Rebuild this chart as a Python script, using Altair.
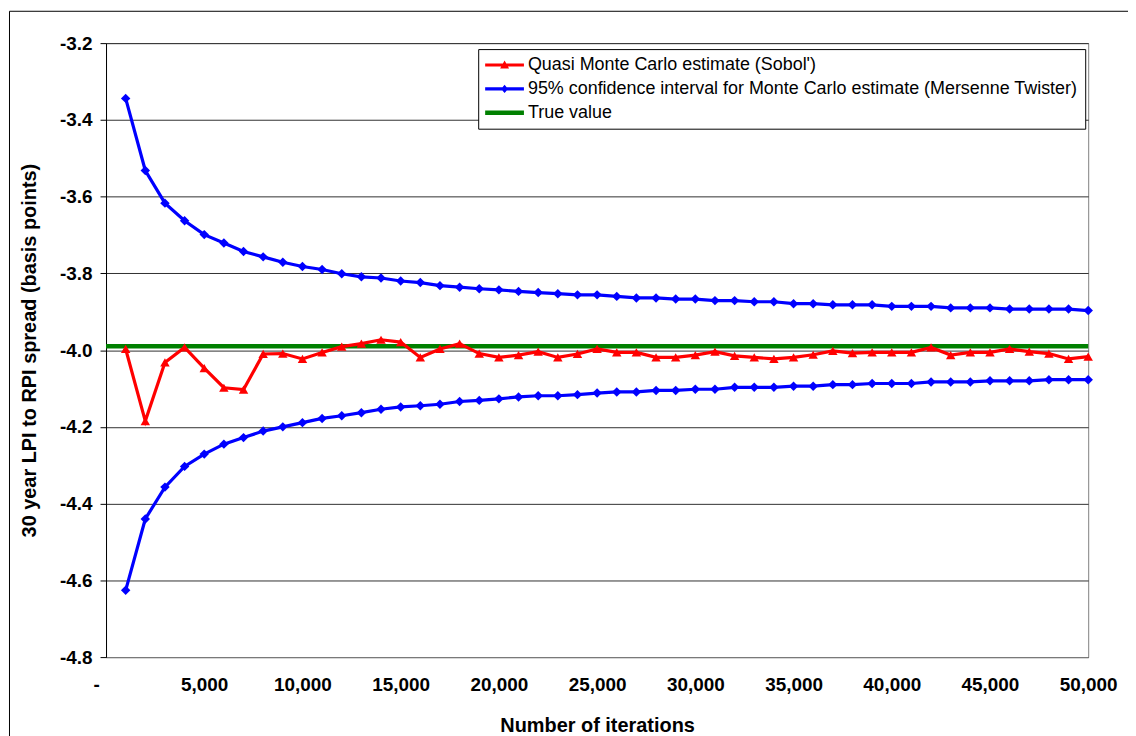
import altair as alt
import pandas as pd

# ---------------- data ----------------
iterations = list(range(1000, 50001, 1000))

sobol = [-3.997, -4.185, -4.032, -3.993, -4.047, -4.098, -4.103, -4.010, -4.009, -4.023,
         -4.006, -3.991, -3.983, -3.973, -3.979, -4.019, -3.997, -3.983, -4.009, -4.019,
         -4.013, -4.004, -4.019, -4.010, -3.997, -4.006, -4.006, -4.019, -4.019, -4.013,
         -4.004, -4.015, -4.019, -4.023, -4.019, -4.012, -4.002, -4.008, -4.006, -4.006,
         -4.006, -3.993, -4.013, -4.006, -4.006, -3.997, -4.004, -4.009, -4.023, -4.017]

ci_upper = [-3.344, -3.532, -3.617, -3.663, -3.699, -3.721, -3.743, -3.757, -3.771, -3.782,
            -3.790, -3.801, -3.809, -3.812, -3.820, -3.824, -3.832, -3.836, -3.840, -3.843,
            -3.847, -3.850, -3.853, -3.856, -3.856, -3.860, -3.864, -3.864, -3.867, -3.867,
            -3.871, -3.871, -3.874, -3.874, -3.879, -3.879, -3.882, -3.882, -3.882, -3.886,
            -3.886, -3.886, -3.890, -3.890, -3.890, -3.893, -3.893, -3.893, -3.893, -3.897]

ci_lower = [-4.626, -4.440, -4.357, -4.303, -4.271, -4.245, -4.228, -4.211, -4.200, -4.189,
            -4.178, -4.171, -4.163, -4.154, -4.148, -4.145, -4.141, -4.134, -4.131, -4.127,
            -4.122, -4.119, -4.119, -4.116, -4.112, -4.109, -4.109, -4.105, -4.105, -4.102,
            -4.102, -4.097, -4.097, -4.097, -4.094, -4.094, -4.090, -4.090, -4.087, -4.087,
            -4.087, -4.083, -4.083, -4.083, -4.080, -4.080, -4.080, -4.077, -4.077, -4.077]

true_x = [0, 50000]
true_y = [-3.99, -3.99]

S_SOBOL = "Quasi Monte Carlo estimate (Sobol')"
S_CI = "95% confidence interval for Monte Carlo estimate (Mersenne Twister)"
S_TRUE = "True value"
series_order = [S_SOBOL, S_CI, S_TRUE]
series_colors = ["#FF0000", "#0000FF", "#008000"]

line_ids = ["sobol", "upper", "lower", "true"]
line_colors = ["#FF0000", "#0000FF", "#0000FF", "#008000"]

x_ticks = list(range(0, 50001, 5000))
y_ticks = [-4.8, -4.6, -4.4, -4.2, -4.0, -3.8, -3.6, -3.4, -3.2]

# legend symbols: line segment + marker (custom SVG paths)
legend_paths = [
    "M-1,-0.17H3.33V0.17H-1Z M1.17,-0.5L1.67,0.39L0.67,0.39Z",
    "M-1,-0.17H3.33V0.17H-1Z M1.17,-0.45L1.56,0L1.17,0.45L0.78,0Z",
    "M-1,-0.25H3.33V0.25H-1Z",
]

rows = []
for x, y in zip(iterations, sobol):
    rows.append({"x": x, "y": y, "series": S_SOBOL, "line": "sobol"})
for x, y in zip(iterations, ci_upper):
    rows.append({"x": x, "y": y, "series": S_CI, "line": "upper"})
for x, y in zip(iterations, ci_lower):
    rows.append({"x": x, "y": y, "series": S_CI, "line": "lower"})
for x, y in zip(true_x, true_y):
    rows.append({"x": x, "y": y, "series": S_TRUE, "line": "true"})
df = pd.DataFrame(rows)

FONT = "Liberation Sans"

x_enc = alt.X(
    "x:Q",
    scale=alt.Scale(domain=[0, 50000], nice=False, zero=False),
    axis=alt.Axis(
        values=x_ticks,
        labelExpr="datum.value == 0 ? '-' : format(datum.value, ',')",
        labelOffset={"condition": {"test": "datum.value == 0", "value": -10}, "value": 0},
        grid=False, ticks=False, tickSize=0,
        labelFont=FONT, labelFontSize=19, labelFontWeight="bold", labelColor="black",
        labelPadding=19, labelFlush=False, labelOverlap=False,
        domainColor="#808080", domainWidth=1,
        title="Number of iterations", titleFont=FONT, titleFontSize=20,
        titleFontWeight="bold", titleColor="black", titlePadding=21,
    ),
)
y_enc = alt.Y(
    "y:Q",
    scale=alt.Scale(domain=[-4.8, -3.2], nice=False, zero=False),
    axis=alt.Axis(
        values=y_ticks,
        labelExpr="replace(format(datum.value, '.1f'), '\u2212', '-')",
        grid=True, gridColor="#303030", gridWidth=1,
        ticks=True, tickSize=6, tickColor="black",
        labelFont=FONT, labelFontSize=19, labelFontWeight="bold", labelColor="black",
        labelPadding=8,
        domainColor="black", domainWidth=1,
        title="30 year LPI to RPI spread (basis points)", titleFont=FONT,
        titleFontSize=20, titleFontWeight="bold", titleColor="black", titlePadding=20,
    ),
)

# per-line colour scales (domain differs from the legend's, so they are not merged)
stroke_scale = alt.Scale(domain=line_ids, range=line_colors)
fill_scale = alt.Scale(domain=line_ids, range=line_colors)

base = alt.Chart(df)


def line_layer(series_name, width):
    return base.transform_filter(alt.datum.series == series_name).mark_line(
        strokeWidth=width
    ).encode(
        x=x_enc,
        y=y_enc,
        stroke=alt.Stroke("line:N", scale=stroke_scale, legend=None),
        detail="line:N",
    )


green = line_layer(S_TRUE, 4.5)
blue = line_layer(S_CI, 3.2)
red = line_layer(S_SOBOL, 3.2)

diamonds = base.transform_filter(alt.datum.series == S_CI).mark_point(
    shape="diamond", filled=True, size=90, opacity=1, strokeWidth=0
).encode(x="x:Q", y="y:Q", fill=alt.Fill("line:N", scale=fill_scale, legend=None))

triangles = base.transform_filter(alt.datum.series == S_SOBOL).mark_point(
    shape="triangle-up", filled=True, size=90, opacity=1, strokeWidth=0
).encode(x="x:Q", y="y:Q", fill=alt.Fill("line:N", scale=fill_scale, legend=None))

legend_spec = alt.Legend(
    title=None, orient="none", legendX=374, legendY=6,
    padding=7, strokeColor="black", fillColor="white",
    labelFont=FONT, labelFontSize=18, labelColor="black", labelLimit=800,
    labelOffset=25, rowPadding=6,
    symbolSize=324, symbolStrokeWidth=0, symbolOpacity=1,
)

# invisible points (size 0) that only carry the legend
legend_layer = base.mark_point(filled=True, opacity=1, size=0).encode(
    x="x:Q",
    y="y:Q",
    color=alt.Color("series:N", scale=alt.Scale(domain=series_order, range=series_colors),
                    legend=legend_spec),
    shape=alt.Shape("series:N", scale=alt.Scale(domain=series_order, range=legend_paths),
                    legend=legend_spec),
)

frame_df = pd.DataFrame({"k": [0]})
frame_v = alt.Chart(frame_df).mark_rule(color="black", strokeWidth=1).encode(
    x=alt.value(-97), y=alt.value(-32), y2=alt.value(700)
)
frame_h = alt.Chart(frame_df).mark_rule(color="black", strokeWidth=1).encode(
    x=alt.value(-97), x2=alt.value(1030), y=alt.value(-32)
)

chart = alt.layer(
    frame_v, frame_h, green, blue, diamonds, red, triangles, legend_layer
).properties(
    width=987, height=617,
    autosize=alt.AutoSizeParams(type="none"),
    padding={"left": 98.5, "top": 33.5, "right": 40, "bottom": 80},
    background="white",
).configure_view(
    stroke="#808080", strokeWidth=1
)

chart.save("out.html", embed_options={"renderer": "svg", "actions": False})
